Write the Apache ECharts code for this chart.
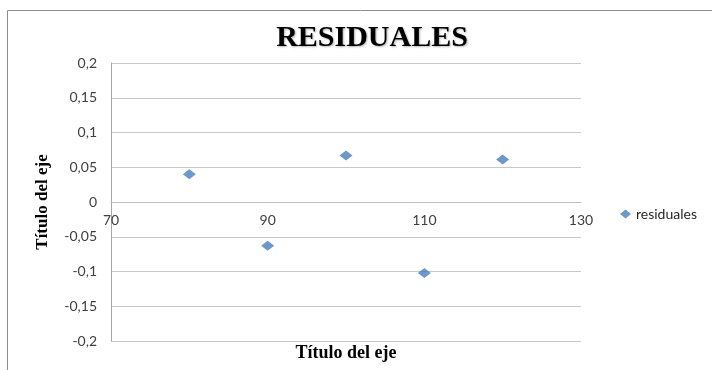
<!DOCTYPE html>
<html>
<head>
<meta charset="utf-8">
<script src="https://cdn.jsdelivr.net/npm/echarts@6/dist/echarts.min.js"></script>
<style>
  html, body { margin: 0; padding: 0; background: #ffffff; }
  #chart { width: 712px; height: 370px; }
</style>
</head>
<body>
<div id="chart"></div>
<script>
// Residuals of the fitted model at each x value
const xValues = [80, 90, 100, 110, 120];
const residuales = [0.04, -0.063, 0.067, -0.102, 0.061];

const seriesName = 'residuales';
const chartTitle = 'RESIDUALES';
const xAxisTitle = 'Título del eje';
const yAxisTitle = 'Título del eje';

const points = xValues.map((x, i) => [x, residuales[i]]);

const fmt = v => String(Math.round(v * 100) / 100).replace('.', ',');

// plot area geometry
const plotLeft = 111, plotTop = 63, plotWidth = 470, plotHeight = 278;

const chart = echarts.init(document.getElementById('chart'), null, { renderer: 'canvas' });

chart.setOption({
  animation: false,
  backgroundColor: '#ffffff',
  title: {
    text: chartTitle,
    left: 367,
    top: 18,
    textAlign: 'center',
    textStyle: {
      fontFamily: 'Liberation Serif',
      fontWeight: 'bold',
      fontSize: 30,
      color: '#000000',
      textShadowColor: 'rgba(0,0,0,0.3)',
      textShadowBlur: 2,
      textShadowOffsetX: 1,
      textShadowOffsetY: 1
    }
  },
  legend: {
    data: [{ name: seriesName, icon: 'diamond' }],
    left: 615,
    top: 202,
    itemWidth: 11,
    itemHeight: 9,
    textStyle: { fontFamily: 'Lato', fontSize: 14, color: '#262626' }
  },
  grid: { left: plotLeft, top: plotTop, width: plotWidth, height: plotHeight, containLabel: false },
  xAxis: {
    type: 'value',
    min: 70,
    max: 130,
    interval: 20,
    // horizontal axis crosses the vertical one at zero (middle of the plot)
    offset: -plotHeight / 2,
    axisLine: { onZero: false, lineStyle: { color: '#bfbfbf', width: 1 } },
    axisTick: { show: false },
    axisLabel: {
      fontFamily: 'Lato',
      fontSize: 14,
      color: '#404040',
      margin: 11
    },
    splitLine: { show: false }
  },
  yAxis: {
    type: 'value',
    min: -0.2,
    max: 0.2,
    interval: 0.05,
    name: yAxisTitle,
    nameLocation: 'middle',
    nameRotate: 90,
    nameGap: 60,
    nameTextStyle: {
      fontFamily: 'Liberation Serif',
      fontWeight: 'bold',
      fontSize: 17,
      color: '#000000'
    },
    axisLine: { show: true, lineStyle: { color: '#a6a6a6', width: 1 } },
    axisTick: { show: false },
    axisLabel: {
      fontFamily: 'Lato',
      fontSize: 14,
      color: '#404040',
      margin: 14,
      formatter: fmt
    },
    splitLine: { show: true, lineStyle: { color: '#c8c8c8', width: 1 } }
  },
  graphic: [
    {
      type: 'rect',
      silent: true,
      shape: { x: 7.5, y: 10.5, width: 900, height: 600 },
      style: { fill: null, stroke: '#8c8c8c', lineWidth: 1 }
    },
    {
      type: 'text',
      silent: true,
      x: 346,
      y: 353,
      style: {
        text: xAxisTitle,
        fontFamily: 'Liberation Serif',
        fontWeight: 'bold',
        fontSize: 18,
        fill: '#000000',
        align: 'center',
        verticalAlign: 'middle'
      }
    }
  ],
  series: [{
    name: seriesName,
    type: 'scatter',
    data: points,
    symbol: 'diamond',
    symbolSize: [13, 10],
    itemStyle: { color: '#4a7ebb' }
  }]
});
</script>
</body>
</html>
